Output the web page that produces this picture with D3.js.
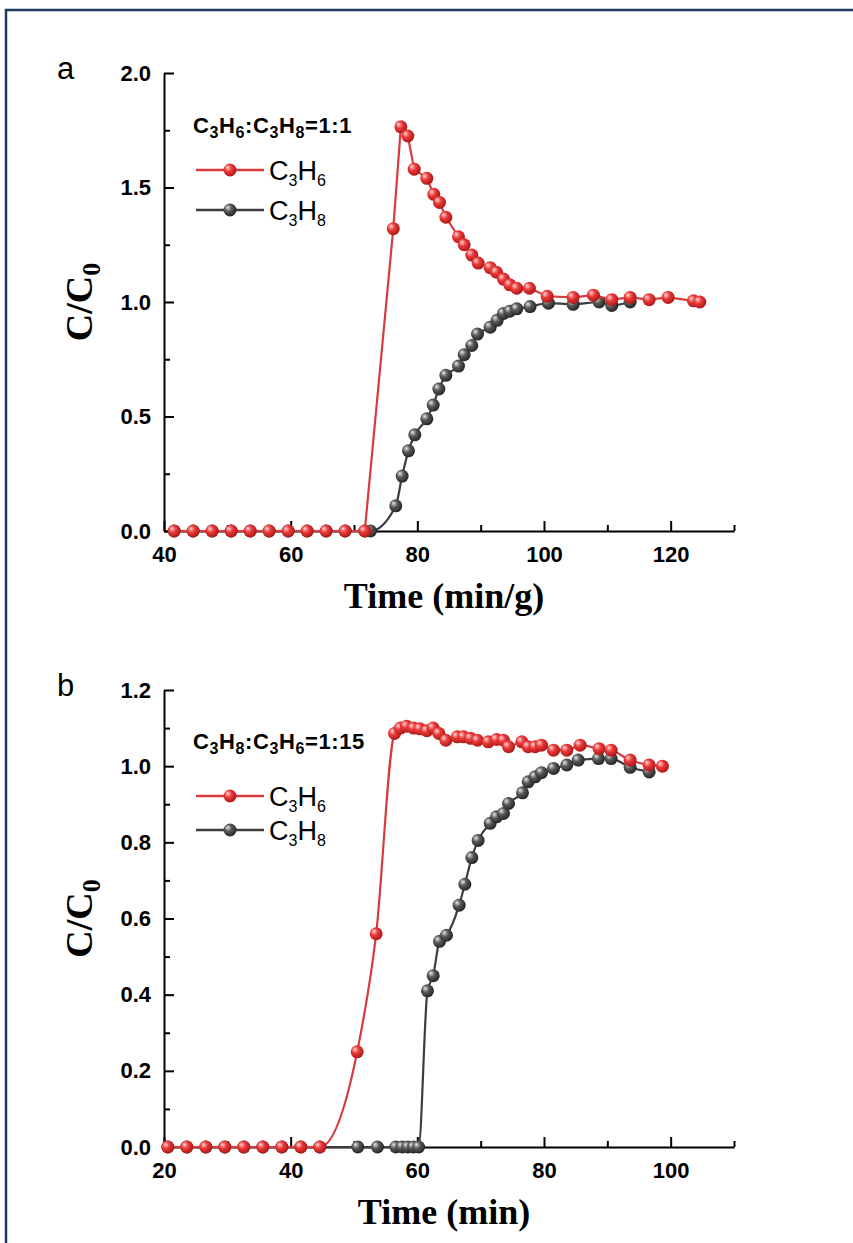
<!DOCTYPE html>
<meta charset="utf-8">
<style>
body { margin: 0; background: #fff; }
svg { display: block; }
.axis text { font-family: "Liberation Sans", Arial, sans-serif; font-weight: bold; font-size: 22px; fill: #000; }
.axis path, .axis line { stroke: #000; stroke-width: 2; }
</style>
<svg width="853" height="1243"></svg>
<script src="https://d3js.org/d3.v7.min.js"></script>
<script>

// ---- panel a : C3H6:C3H8 = 1:1 ----
var aTimeC3H6 = [41.6, 44.6, 47.6, 50.6, 53.6, 56.6, 59.6, 62.6, 65.6, 68.6, 71.7,
  76.2, 77.4, 78.5, 79.5, 81.5, 82.6, 83.5, 84.5, 86.5, 87.4, 88.6, 89.6, 91.5, 92.5,
  93.6, 94.6, 95.7, 97.7, 100.5, 104.6, 107.8, 110.7, 113.6, 116.6, 119.6, 123.6, 124.6];
var aC3H6 = [0, 0, 0, 0, 0, 0, 0, 0, 0, 0, 0,
  1.32, 1.765, 1.725, 1.58, 1.54, 1.47, 1.435, 1.37, 1.285, 1.25, 1.205, 1.17, 1.15, 1.13,
  1.10, 1.075, 1.06, 1.06, 1.025, 1.02, 1.03, 1.01, 1.02, 1.01, 1.02, 1.005, 1.0];
var aTimeC3H8 = [41.6, 44.6, 47.6, 50.6, 53.6, 56.6, 59.6, 62.6, 65.6, 68.6, 71.7, 72.6,
  76.6, 77.6, 78.6, 79.6, 81.5, 82.5, 83.4, 84.5, 86.5, 87.4, 88.6, 89.5, 91.5, 92.6,
  93.6, 94.6, 95.7, 97.8, 100.7, 104.6, 108.7, 110.7, 113.6];
var aC3H8 = [0, 0, 0, 0, 0, 0, 0, 0, 0, 0, 0, 0,
  0.11, 0.24, 0.35, 0.42, 0.49, 0.55, 0.62, 0.68, 0.72, 0.77, 0.81, 0.86, 0.89, 0.92,
  0.95, 0.96, 0.97, 0.98, 0.995, 0.99, 1.0, 0.985, 1.0];
var aXMajor = [40, 60, 80, 100, 120], aXMinor = [50, 70, 90, 110, 130];
var aYMajor = [0, 0.5, 1.0, 1.5, 2.0], aYMinor = [0.25, 0.75, 1.25, 1.75];

// ---- panel b : C3H8:C3H6 = 1:15 ----
var bTimeC3H6 = [20.6, 23.6, 26.6, 29.6, 32.6, 35.6, 38.6, 41.6, 44.6,
  50.5, 53.5, 56.4, 57.3, 58.3, 59.4, 60.4, 61.5, 62.5, 63.4, 64.5, 66.3, 67.3, 68.4,
  69.5, 71.2, 72.5, 73.6, 74.4, 76.5, 77.5, 78.6, 79.6, 81.5, 83.6, 85.7, 88.7, 90.6,
  93.6, 96.6, 98.7];
var bC3H6 = [0, 0, 0, 0, 0, 0, 0, 0, 0,
  0.25, 0.56, 1.086, 1.10, 1.105, 1.10, 1.098, 1.093, 1.10, 1.086, 1.068, 1.077, 1.077, 1.073,
  1.068, 1.064, 1.07, 1.068, 1.051, 1.064, 1.051, 1.051, 1.055, 1.042, 1.042, 1.055, 1.046, 1.042,
  1.016, 1.003, 1.0];
var bTimeC3H8 = [20.6, 23.6, 26.6, 29.6, 32.6, 35.6, 38.6, 41.6, 44.6,
  50.6, 53.7, 56.6, 57.6, 58.5, 59.4, 60.2,
  61.6, 62.5, 63.5, 64.6, 66.6, 67.5, 68.6, 69.6, 71.5, 72.5, 73.6, 74.4, 76.6, 77.5,
  78.6, 79.6, 81.5, 83.6, 85.4, 88.6, 90.6, 93.6, 96.6];
var bC3H8 = [0, 0, 0, 0, 0, 0, 0, 0, 0,
  0, 0, 0, 0, 0, 0, 0,
  0.41, 0.45, 0.54, 0.556, 0.635, 0.69, 0.76, 0.805, 0.85, 0.867, 0.876, 0.902, 0.93, 0.959,
  0.972, 0.983, 0.994, 1.003, 1.016, 1.02, 1.02, 0.997, 0.985];
var bXMajor = [20, 40, 60, 80, 100], bXMinor = [30, 50, 70, 90, 110];
var bYMajor = [0, 0.2, 0.4, 0.6, 0.8, 1.0, 1.2], bYMinor = [0.1, 0.3, 0.5, 0.7, 0.9, 1.1];

var svg = d3.select("svg");

// frame
svg.append("rect")
    .attr("x", 6).attr("y", 10).attr("width", 900).attr("height", 1300)
    .attr("fill", "none").attr("stroke", "#1f3864").attr("stroke-width", 2.5);

// sphere-looking markers
var defs = svg.append("defs");
function sphere(id, hi, mid, edge) {
  var g = defs.append("radialGradient").attr("id", id)
      .attr("cx", "40%").attr("cy", "40%").attr("r", "60%").attr("fx", "32%").attr("fy", "30%");
  g.append("stop").attr("offset", "0%").attr("stop-color", hi);
  g.append("stop").attr("offset", "45%").attr("stop-color", mid);
  g.append("stop").attr("offset", "100%").attr("stop-color", edge);
}
sphere("redBall", "#ffd8d8", "#ec3b3b", "#b01818");
sphere("grayBall", "#e6e6e6", "#5a5a5a", "#262626");

var red = {line: "#d63c3e", fill: "url(#redBall)"},
    gray = {line: "#3d3d3d", fill: "url(#grayBall)"};

// text with chemical subscripts: digit right after a letter is a subscript
function chem(sel, str, size, subSize, shift) {
  var prevSub = false;
  for (var i = 0; i < str.length; i++) {
    var ch = str[i];
    var isSub = /[0-9]/.test(ch) && i > 0 && /[A-Za-z]/.test(str[i - 1]);
    var t = sel.append("tspan").text(ch);
    if (isSub) {
      t.attr("font-size", subSize).attr("dy", shift);
    } else {
      t.attr("font-size", size);
      if (prevSub) t.attr("dy", -shift);
    }
    prevSub = isSub;
  }
}

function panel(o) {
  var x = d3.scaleLinear().domain(o.xDomain).range([164, 734]);
  var y = d3.scaleLinear().domain(o.yDomain).range([o.bottom, o.top]);
  var g = svg.append("g");

  // minor ticks
  g.append("g").attr("class", "axis").attr("transform", "translate(0," + o.bottom + ")")
      .call(d3.axisBottom(x).tickValues(o.xMinor).tickSize(-6).tickSizeOuter(0).tickFormat(""))
      .select(".domain").remove();
  g.append("g").attr("class", "axis").attr("transform", "translate(164,0)")
      .call(d3.axisLeft(y).tickValues(o.yMinor).tickSize(-6).tickSizeOuter(0).tickFormat(""))
      .select(".domain").remove();

  // major ticks + labels
  g.append("g").attr("class", "axis").attr("transform", "translate(0," + o.bottom + ")")
      .call(d3.axisBottom(x).tickValues(o.xMajor).tickSize(-10).tickSizeOuter(0).tickPadding(15).tickFormat(d3.format("d")));
  g.append("g").attr("class", "axis").attr("transform", "translate(164,0)")
      .call(d3.axisLeft(y).tickValues(o.yMajor).tickSize(-10).tickSizeOuter(0).tickPadding(13).tickFormat(d3.format(".1f")));

  var x0 = function(d) { return x(d[0]); }, y0 = function(d) { return y(d[1]); };

  o.series.forEach(function(s) {
    var pts = d3.zip(s.t, s.v);
    var line = d3.line().x(x0).y(y0).curve(s.curve || d3.curveMonotoneX);
    g.append("path").datum(pts).attr("d", line)
        .attr("fill", "none").attr("stroke", s.style.line).attr("stroke-width", 2.2);
    g.append("g").selectAll("circle").data(pts).enter().append("circle")
        .attr("cx", x0)
        .attr("cy", y0)
        .attr("r", 6.5)
        .attr("fill", s.style.fill);
  });

  // panel letter
  g.append("text").attr("x", 57).attr("y", o.top + 6)
      .attr("font-family", "Liberation Sans, Arial, sans-serif").attr("font-size", 31)
      .text(o.letter);

  // axis titles
  g.append("text").attr("x", 444).attr("y", o.bottom + 77)
      .attr("text-anchor", "middle")
      .attr("font-family", "Liberation Serif, Times New Roman, serif").attr("font-weight", "bold")
      .attr("font-size", 36).text(o.xTitle);
  var yt = g.append("text")
      .attr("transform", "translate(92," + ((o.top + o.bottom) / 2) + ") rotate(-90)")
      .attr("text-anchor", "middle")
      .attr("font-family", "Liberation Serif, Times New Roman, serif").attr("font-weight", "bold");
  chem(yt, "C/C0", 38, 26, 8);

  // legend
  var lg = g.append("g").attr("font-family", "Liberation Sans, Arial, sans-serif");
  var title = lg.append("text").attr("x", 193).attr("y", o.legendTop).attr("font-weight", "bold")
      .attr("letter-spacing", 0.6);
  chem(title, o.legendTitle, 22, 16, 5);
  o.series.slice().reverse().forEach(function(s, i) {
    var yy = o.legendTop + o.legendGap1 + i * o.legendGap;
    lg.append("line").attr("x1", 196).attr("x2", 264).attr("y1", yy).attr("y2", yy)
        .attr("stroke", s.style.line).attr("stroke-width", 2.5);
    lg.append("circle").attr("cx", 230).attr("cy", yy).attr("r", 6.5).attr("fill", s.style.fill);
    var t = lg.append("text").attr("x", 269).attr("y", yy + 10);
    chem(t, s.name, 27, 16, 6);
  });
}

panel({
  letter: "a", top: 73, bottom: 531, xDomain: [40, 130], yDomain: [0, 2],
  xMajor: aXMajor, xMinor: aXMinor, yMajor: aYMajor, yMinor: aYMinor,
  xTitle: "Time (min/g)", legendTitle: "C3H6:C3H8=1:1", legendTop: 133, legendGap1: 37, legendGap: 40,
  series: [
    {name: "C3H8", t: aTimeC3H8, v: aC3H8, style: gray},
    {name: "C3H6", t: aTimeC3H6, v: aC3H6, style: red, curve: d3.curveLinear}
  ]
});

panel({
  letter: "b", top: 690, bottom: 1147, xDomain: [20, 110], yDomain: [0, 1.2],
  xMajor: bXMajor, xMinor: bXMinor, yMajor: bYMajor, yMinor: bYMinor,
  xTitle: "Time (min)", legendTitle: "C3H8:C3H6=1:15", legendTop: 749, legendGap1: 47, legendGap: 34,
  series: [
    {name: "C3H8", t: bTimeC3H8, v: bC3H8, style: gray},
    {name: "C3H6", t: bTimeC3H6, v: bC3H6, style: red}
  ]
});

</script>
